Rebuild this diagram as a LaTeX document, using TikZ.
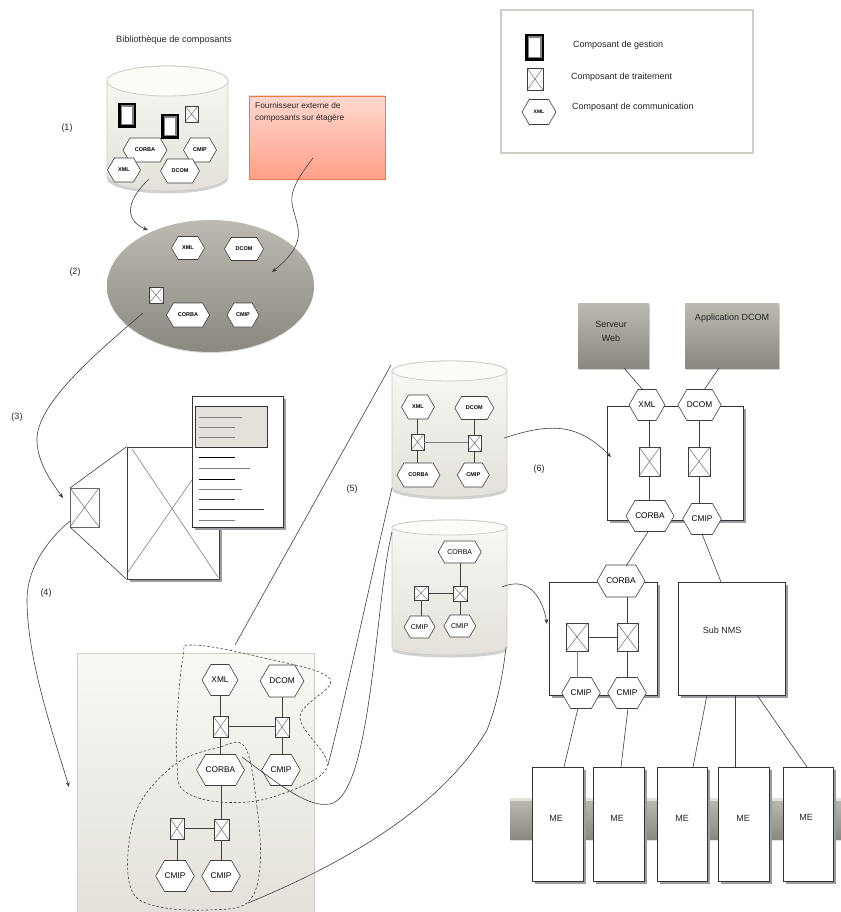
\documentclass[tikz,border=0pt]{standalone}
\usepackage{fontspec}
\setmainfont{Liberation Sans}
\usetikzlibrary{shapes.geometric,shapes.symbols,shadows,arrows.meta}
\definecolor{lightA}{HTML}{F9F8F4}
\definecolor{lightB}{HTML}{E3E1D9}
\definecolor{lightE}{HTML}{CFCDC4}
\definecolor{darkA}{HTML}{BDBAB1}
\definecolor{darkB}{HTML}{8B8880}
\definecolor{redA}{HTML}{FFD8CE}
\definecolor{redB}{HTML}{FFA08A}
\definecolor{redE}{HTML}{EE7B45}
\definecolor{lineC}{HTML}{404040}
\definecolor{shadC}{HTML}{9A9EA3}
\definecolor{docC}{HTML}{E4E0DA}
\tikzset{
  thinl/.style={draw=lineC,line width=0.6pt},
  arr/.style={thinl,-{Stealth[length=5pt,width=4pt]}},
  link/.style={draw=lineC,line width=0.8pt},
  hexa/.style={shape=signal,signal to=east and west,signal pointer angle=120,
    draw=lineC,line width=0.6pt,fill=white,inner sep=0pt,outer sep=0pt,text=black},
  hs/.style={hexa,font=\fontsize{5.5}{7}\selectfont\bfseries,minimum height=24pt},
  hb/.style={hexa,font=\fontsize{8.3}{10}\selectfont,minimum height=31pt},
  xbox/.style={shape=rectangle,draw=lineC,line width=0.8pt,fill=white,inner sep=0pt,outer sep=0pt,
    path picture={\draw[draw=gray,line width=0.6pt]
      (path picture bounding box.north west)--(path picture bounding box.south east)
      (path picture bounding box.north east)--(path picture bounding box.south west);}},
  boxr/.style={shape=rectangle,draw=black!80,line width=0.7pt,fill=white,inner sep=0pt,
    font=\fontsize{9}{10.5}\selectfont,text=black!85,
    general shadow={fill=shadC,shadow xshift=2.5pt,shadow yshift=-2.5pt}},
  grad/.style={shape=rectangle,top color=darkA,bottom color=darkB,draw=none,inner sep=0pt,
    general shadow={fill=black!18,shadow xshift=0.8pt,shadow yshift=-1.5pt}},
  lab/.style={font=\fontsize{9}{10.5}\selectfont,text=black!85,inner sep=0pt},
  dashb/.style={draw=black!75,line width=0.6pt,dash pattern=on 2.5pt off 2pt},
}
% name, x1, y1, x2, y2, style, text
\newcommand{\rectat}[7]{%
  \pgfmathsetmacro{\rw}{(#4)-(#2)}\pgfmathsetmacro{\rh}{(#5)-(#3)}%
  \pgfmathsetmacro{\rx}{((#2)+(#4))/2}\pgfmathsetmacro{\ry}{((#3)+(#5))/2}%
  \node[#6,minimum width=\rw pt,minimum height=\rh pt] (#1) at (\rx,\ry) {#7};}
% x1, x2, ytop, ybot, ellipse height
\newcommand{\cylat}[5]{%
  \pgfmathsetmacro{\crx}{(#2-#1)/2}\pgfmathsetmacro{\cry}{#5/2}%
  \pgfmathsetmacro{\cya}{#3+#5/2}\pgfmathsetmacro{\cyb}{#4-#5/2}\pgfmathsetmacro{\cyc}{#4-#5/2+2.5}%
  \fill[black!18] (#1,\cyc) arc[start angle=180,end angle=360,x radius=\crx pt,y radius=\cry pt] -- cycle;
  \path[draw=lightE,line width=0.8pt,top color=lightA,bottom color=lightB]
    (#1,\cya) -- (#1,\cyb) arc[start angle=180,end angle=360,x radius=\crx pt,y radius=\cry pt]
    -- (#2,\cya) arc[start angle=0,end angle=180,x radius=\crx pt,y radius=\cry pt] -- cycle;
  \path[draw=lightE,line width=0.8pt,fill=lightA!60!white]
    (#1,\cya) arc[start angle=180,end angle=540,x radius=\crx pt,y radius=\cry pt];}
% name, x1, y1, x2, y2
\newcommand{\gestion}[5]{%
  \rectat{#1}{#2}{#3}{#4}{#5}{shape=rectangle,fill=black,inner sep=0pt}{}%
  \rectat{#1a}{#2+2.5}{#3+2.5}{#4-2.5}{#5-2.5}{shape=rectangle,fill=gray,inner sep=0pt}{}%
  \rectat{#1b}{#2+4}{#3+4}{#4-4}{#5-4}{shape=rectangle,fill=white,inner sep=0pt}{}}
\begin{document}
\begin{tikzpicture}[x=1pt,y=-1pt]
\useasboundingbox (0,0) rectangle (840,912);
\fill[white] (0,0) rectangle (840,912);

% legend
\rectat{legend}{501}{10}{753}{153}{shape=rectangle,draw=lightE,line width=1.6pt,fill=white}{}
\gestion{lg}{525}{34}{544}{61}
\rectat{lx}{527}{68}{543}{90}{xbox}{}
\node[hs,minimum width=34pt,minimum height=25pt,font=\fontsize{5}{6}\selectfont\bfseries] (lh) at (539,112) {XML};
\node[lab,anchor=west] (lt1) at (573,45) {Composant de gestion};
\node[lab,anchor=west] (lt2) at (571,77) {Composant de traitement};
\node[lab,anchor=west] (lt3) at (572,107) {Composant de communication};

% step labels
\node[lab,anchor=west,font=\fontsize{9.2}{10.5}\selectfont] (title) at (116,40) {Bibliothèque de composants};
\node[lab] (s1) at (67,128) {(1)};
\node[lab] (s2) at (75,272) {(2)};
\node[lab] (s3) at (17,417) {(3)};
\node[lab] (s4) at (46,593) {(4)};
\node[lab] (s5) at (352,489) {(5)};
\node[lab] (s6) at (539,469) {(6)};

% library cylinder
\cylat{107}{228}{66}{191}{30}
\gestion{g1}{118}{103}{136}{128}
\gestion{g2}{161}{114}{179}{139}
\rectat{x0}{185}{106}{198}{122}{xbox}{}
\node[hs,minimum width=44pt] (lc) at (145,150) {CORBA};
\node[hs,minimum width=33pt] (lm) at (200,150) {CMIP};
\node[hs,minimum width=33pt] (lx2) at (124,170) {XML};
\node[hs,minimum width=39pt] (ld) at (180,171) {DCOM};
\coordinate (libout) at (149,179);

% supplier
\rectat{sup}{249}{96}{385}{179}{shape=rectangle,top color=redA,bottom color=redB,draw=redE,line width=0.8pt,inner sep=0pt,general shadow={fill=black!25,shadow xshift=0.5pt,shadow yshift=-1.5pt}}{}
\node[lab,anchor=north west,align=left,font=\fontsize{8.3}{12}\selectfont] (supt) at (255,102) {Fournisseur externe de\\composants sur étagère};
\coordinate (supout) at (313,158);

% selection ellipse
\node[shape=ellipse,minimum width=207pt,minimum height=132pt,top color=darkA,bottom color=darkB,inner sep=0pt,
  general shadow={fill=black!15,shadow yshift=-1pt}] (sel) at (210.5,286) {};
\node[hs,minimum width=33pt,minimum height=23pt] (e1) at (188,248) {XML};
\node[hs,minimum width=39pt,minimum height=23pt] (e2) at (244,249) {DCOM};
\node[hs,minimum width=43pt] (e3) at (188,315) {CORBA};
\node[hs,minimum width=32pt] (e4) at (243,315) {CMIP};
\rectat{e5}{149}{287}{163}{303}{xbox}{}
\coordinate (selin) at (148,230);
\coordinate (selin2) at (272,272);
\coordinate (selout) at (143,313);

\draw[arr] (libout) .. controls (122,205) and (128,222) .. (selin);
\draw[arr] (supout) .. controls (300,175) and (290,190) .. (292,203) .. controls (295,225) and (312,240) .. (selin2);

% component / document
\rectat{big}{127}{447}{219}{579}{boxr,draw=lineC}{}
\rectat{small}{70}{488}{99}{527}{xbox,draw=black!60}{}
\coordinate (bigx1) at (132,449); \coordinate (bigx2) at (218,577);
\coordinate (bigx3) at (128,572); \coordinate (bigx4) at (215,447);
\draw[thinl,draw=gray] (bigx1) -- (bigx2) (bigx3) -- (bigx4);
\draw[thinl] (small.north west) -- (big.north west) (small.south west) -- (big.south west);
\rectat{doc}{192}{396}{283}{527}{boxr}{}
\rectat{dochead}{195}{406}{267}{447}{shape=rectangle,draw=black!80,line width=0.6pt,fill=docC,inner sep=0pt}{}
\foreach \yy/\xx/\cc in {417/242/gray,427/235/gray,437/235/gray,457/235/black,468/250/gray,479/235/black,489/242/gray,499/235/black!80,509/264/black!80,520/235/gray}{
  \draw[draw=\cc,line width=0.8pt] (199,\yy) -- (\xx,\yy);}
\coordinate (smallin) at (63,498);
\coordinate (smallout) at (70,521);
\draw[arr] (selout) .. controls (100,350) and (40,400) .. (37,437) .. controls (36,460) and (50,480) .. (smallin);

% panel
\rectat{panel}{77}{653}{314}{913}{shape=rectangle,top color=lightA,bottom color=lightB,draw=lightE,line width=0.8pt,inner sep=0pt}{}
\coordinate (panelin) at (69,787);
\draw[arr] (smallout) .. controls (45,542) and (27,570) .. (27,600) .. controls (27,660) and (55,740) .. (panelin);
\rectat{pb1}{213}{716}{228}{737}{xbox}{}
\rectat{pb2}{275}{717}{289}{737}{xbox}{}
\rectat{pb3}{170}{818}{184}{839}{xbox}{}
\rectat{pb4}{214}{819}{229}{840}{xbox}{}
\node[hb,minimum width=36pt] (px) at (220,680) {XML};
\node[hb,minimum width=43pt,minimum height=32pt] (pd) at (282,681) {DCOM};
\node[hb,minimum width=48pt] (pc) at (220.5,770) {CORBA};
\node[hb,minimum width=36pt] (pm) at (281,770) {CMIP};
\node[hb,minimum width=36pt] (pm1) at (175,876) {CMIP};
\node[hb,minimum width=36pt] (pm2) at (221,876) {CMIP};
\draw[link] (pb1.north) -- (pb1.north |- px.south);
\draw[link] (pb2.north) -- (pb2.north |- pd.south);
\draw[link] (pb1.east) -- (pb1.east -| pb2.west);
\draw[link] (pb1.south) -- (pb1.south |- pc.north);
\draw[link] (pb2.south) -- (pb2.south |- pm.north);
\draw[link] (pb4.north) -- (pb4.north |- pc.south);
\draw[link] (pb3.east) -- (pb3.east -| pb4.west);
\draw[link] (pb3.south) -- (pb3.south |- pm1.north);
\draw[link] (pb4.south) -- (pb4.south |- pm2.north);
\draw[dashb] plot[smooth cycle,tension=0.6] coordinates {(193,645) (260,657) (330,679) (300,717) (327,767) (273,797) (220,802) (183,790) (177,763) (177,720) (183,657)};
\draw[dashb] plot[smooth cycle,tension=0.6] coordinates {(245,747) (257,807) (260,867) (247,903) (207,910) (160,907) (133,893) (128,853) (140,803) (177,763) (217,748)};

% cylinder 1
\cylat{392}{507}{361}{497}{20}
\rectat{c1b1}{411}{434}{424}{450}{xbox}{}
\rectat{c1b2}{468}{435}{481}{451}{xbox}{}
\node[hs,minimum width=33pt] (c1x) at (418,407) {XML};
\node[hs,minimum width=39pt,minimum height=23pt] (c1d) at (474.3,408) {DCOM};
\node[hs,minimum width=43pt] (c1c) at (418.5,475) {CORBA};
\node[hs,minimum width=32pt] (c1m) at (473.3,475) {CMIP};
\draw[link] (c1b1.north) -- (c1b1.north |- c1x.south);
\draw[link] (c1b2.north) -- (c1b2.north |- c1d.south);
\draw[link,line width=1pt,draw=gray] (c1b1.east) -- (c1b1.east -| c1b2.west);
\draw[link] (c1b1.south) -- (c1b1.south |- c1c.north);
\draw[link] (c1b2.south) -- (c1b2.south |- c1m.north);

% cylinder 2
\cylat{392}{507}{520}{655}{15}
\rectat{c2b1}{414}{586}{428}{600}{xbox}{}
\rectat{c2b2}{453}{586}{467}{601}{xbox}{}
\node[hs,minimum width=43pt,minimum height=22pt,font=\fontsize{7}{8}\selectfont] (c2c) at (459.7,552) {CORBA};
\node[hs,minimum width=31pt,minimum height=22pt,font=\fontsize{7}{8}\selectfont] (c2m1) at (419.5,627) {CMIP};
\node[hs,minimum width=32pt,minimum height=22pt,font=\fontsize{7}{8}\selectfont] (c2m2) at (459.8,626) {CMIP};
\draw[link] (c2b2.north) -- (c2b2.north |- c2c.south);
\draw[link] (c2b1.east) -- (c2b1.east -| c2b2.west);
\draw[link] (c2b1.south) -- (c2b1.south |- c2m1.north);
\draw[link] (c2b2.south) -- (c2b2.south |- c2m2.north);

% lines from the dashed regions to the cylinders
\coordinate (d1a) at (235,645); \coordinate (c1a) at (391,365);
\coordinate (d1b) at (328,765); \coordinate (c1e) at (392,488);
\coordinate (pcr) at (242,757); \coordinate (c2a) at (392,532);
\coordinate (d2a) at (248,903); \coordinate (c2e) at (506,647);
\draw[thinl] (d1a) -- (c1a);
\draw[thinl] (d1b) .. controls (345,700) and (375,560) .. (c1e);
\draw[thinl] (pcr) .. controls (280,785) and (308,808) .. (330,804) .. controls (372,796) and (375,600) .. (c2a);
\draw[thinl] (d2a) .. controls (340,865) and (440,810) .. (487,730) .. controls (497,705) and (503,675) .. (c2e);

% ME bar
\rectat{bar}{510}{798}{841}{839}{grad,general shadow={fill=black!12,shadow xshift=0pt,shadow yshift=-1.5pt}}{}
\coordinate (barA) at (510,798); \coordinate (barB) at (841,800.5);
\fill[lightB] (barA) rectangle (barB);
\rectat{me1}{532}{767}{583}{881}{boxr}{}
\rectat{me2}{593}{767}{644}{881}{boxr}{}
\rectat{me3}{657}{767}{707}{881}{boxr}{}
\rectat{me4}{718}{767}{769}{881}{boxr}{}
\rectat{me5}{783}{767}{833}{881}{boxr}{}
\node[lab] (me1t) at (556,818) {ME};
\node[lab] (me2t) at (617,818) {ME};
\node[lab] (me3t) at (682,818) {ME};
\node[lab] (me4t) at (743,818) {ME};
\node[lab] (me5t) at (806,817) {ME};

% top-right servers
\rectat{web}{578}{303}{649}{368}{grad}{}
\rectat{app}{685}{303}{779}{368}{grad}{}
\node[lab,align=center,font=\fontsize{9}{14}\selectfont] (webt) at (611,331) {Serveur\\Web};
\node[lab] (appt) at (732,318) {Application DCOM};

% box A
\rectat{boxa}{607}{406}{743}{520}{boxr}{}
\rectat{ab1}{639}{447}{660}{476}{xbox}{}
\rectat{ab2}{688}{447}{710}{476}{xbox}{}
\node[hb,minimum width=36pt] (ax) at (647,405) {XML};
\node[hb,minimum width=42pt] (ad) at (699.5,405) {DCOM};
\node[hb,minimum width=48pt] (ac) at (650,516) {CORBA};
\node[hb,minimum width=35pt] (am) at (702,519) {CMIP};
\draw[link] (ab1.north) -- (ab1.north |- ax.south);
\draw[link] (ab2.north) -- (ab2.north |- ad.south);
\draw[link] (ab1.south) -- (ab1.south |- ac.north);
\draw[link] (ab2.south) -- (ab2.south |- am.north);

% box B
\rectat{boxb}{549}{582}{657}{695}{boxr}{}
\rectat{bb1}{566}{623}{588}{651}{xbox}{}
\rectat{bb2}{617}{623}{638}{651}{xbox}{}
\node[hb,minimum width=48pt,minimum height=32pt] (bc) at (621,581) {CORBA};
\node[hb,minimum width=36pt] (bm1) at (581,693) {CMIP};
\node[hb,minimum width=36pt] (bm2) at (627,693) {CMIP};
\draw[link] (bb2.north) -- (bb2.north |- bc.south);
\draw[link] (bb1.east) -- (bb1.east -| bb2.west);
\draw[link,draw=gray] (bb1.south) -- (bb1.south |- bm1.north);
\draw[link] (bb2.south) -- (bb2.south |- bm2.north);

% sub NMS
\rectat{sub}{678}{582}{785}{695}{boxr}{}
\node[lab] (subt) at (722,630) {Sub NMS};

% thin connections
\coordinate (webo) at (624,368); \coordinate (appo) at (719,368);
\coordinate (axt) at (643,390); \coordinate (adt) at (704,390);
\coordinate (acb) at (648,532); \coordinate (bct) at (626,566);
\coordinate (amb) at (702,534); \coordinate (subt2) at (721,582);
\coordinate (m1b) at (578,708); \coordinate (m2b) at (628,708);
\coordinate (me1c) at (564,767); \coordinate (me2c) at (621,767);
\coordinate (sa) at (707,695); \coordinate (sb) at (735,695); \coordinate (sc) at (757,695);
\coordinate (me3c) at (693,767); \coordinate (me4c) at (735,767); \coordinate (me5c) at (807,767);
\draw[thinl] (webo) -- (axt);
\draw[thinl] (appo) -- (adt);
\draw[thinl] (acb) -- (bct);
\draw[thinl] (amb) -- (subt2);
\draw[thinl] (m1b) -- (me1c);
\draw[thinl] (m2b) -- (me2c);
\draw[thinl] (sa) -- (me3c);
\draw[thinl] (sb) -- (me4c);
\draw[thinl] (sc) -- (me5c);

% arrows into the boxes
\coordinate (c1out) at (504,438); \coordinate (aIn) at (611,457);
\coordinate (c2out) at (502,587); \coordinate (bIn) at (547,624);
\draw[arr] (c1out) .. controls (545,425) and (575,420) .. (aIn);
\draw[arr] (c2out) .. controls (530,575) and (543,600) .. (bIn);
\end{tikzpicture}
\end{document}
